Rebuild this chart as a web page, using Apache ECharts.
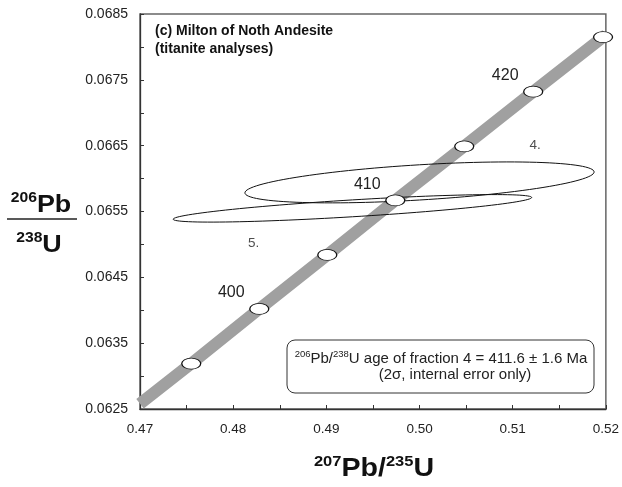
<!DOCTYPE html>
<html>
<head>
<meta charset="utf-8">
<script src="https://cdn.jsdelivr.net/npm/echarts@6/dist/echarts.min.js"></script>
<style>
  html, body { margin: 0; padding: 0; background: #fff; }
  #chart { width: 622px; height: 487px; }
</style>
</head>
<body>
<div id="chart"></div>
<script>
// concordia band, 207Pb/235U vs 206Pb/238U
var bandX = [0.4700, 0.4755, 0.4828, 0.4901, 0.4974, 0.5048, 0.5122, 0.5197, 0.5200]
var bandY = [0.06258, 0.06319, 0.06402, 0.06484, 0.06567, 0.06649, 0.06732, 0.06815, 0.06818]
// age marks on the concordia (Ma)
var markerAges = [395, 400, 405, 410, 415, 420, 425]
var markerX = [0.4755, 0.4828, 0.4901, 0.4974, 0.5048, 0.5122, 0.5197]
var markerY = [0.06319, 0.06402, 0.06484, 0.06567, 0.06649, 0.06732, 0.06815]
// titanite fractions: centre, 2s errors, error correlation
var fractions = ['4.', '5.']
var fracX = [0.5000, 0.4928]
var fracErrX = [0.01874, 0.01924]
var fracY = [0.065942, 0.065548]
var fracErrY = [0.000311, 0.000209]
var fracRho = [0.51, 0.79]
var fracLabelX = [0.5124, 0.4822]
var fracLabelY = [0.06651, 0.06502]

var FONT = '"Liberation Sans", Arial, Helvetica, sans-serif'

var bandData = bandX.map(function (x, i) { return [x, bandY[i]] })
var markerData = markerX.map(function (x, i) { return [x, markerY[i], markerAges[i]] })
var ellipseData = fractions.map(function (f, i) {
  return [fracX[i], fracErrX[i], fracY[i], fracErrY[i], fracRho[i]]
})
var fracLabelData = fractions.map(function (f, i) {
  return { name: f, value: [fracLabelX[i], fracLabelY[i]] }
})

function ellipseItem (params, api) {
  var cx = api.value(0), sx = api.value(1), cy = api.value(2), sy = api.value(3), rho = api.value(4)
  var k = Math.sqrt(1 - rho * rho)
  var pts = []
  for (var i = 0; i < 120; i++) {
    var t = i / 120 * Math.PI * 2
    pts.push(api.coord([cx + sx * Math.cos(t), cy + sy * (rho * Math.cos(t) + k * Math.sin(t))]))
  }
  return {
    type: 'polygon',
    shape: { points: pts },
    style: { fill: 'none', stroke: '#111', lineWidth: 1 }
  }
}

var chart = echarts.init(document.getElementById('chart'))
chart.setOption({
  animation: false,
  grid: {
    left: 140, top: 14, width: 466, height: 395,
    show: true, borderColor: '#666', borderWidth: 1.5
  },
  xAxis: {
    type: 'value',
    min: 0.47, max: 0.52, interval: 0.005,
    axisLine: { show: true, lineStyle: { color: '#333', width: 1.3 } },
    axisTick: { show: true, inside: true, length: 4, lineStyle: { color: '#333' } },
    splitLine: { show: false },
    axisLabel: {
      margin: 13, fontSize: 13.5, color: '#222', fontFamily: FONT,
      formatter: function (v) {
        return Math.round(v * 1000) % 10 === 0 ? v.toFixed(2) : ''
      }
    }
  },
  yAxis: {
    type: 'value',
    min: 0.0625, max: 0.0685, interval: 0.0005,
    axisLine: { show: true, lineStyle: { color: '#333', width: 1.3 } },
    axisTick: { show: true, inside: true, length: 4, lineStyle: { color: '#333' } },
    splitLine: { show: false },
    axisLabel: {
      margin: 12, fontSize: 14, color: '#222', fontFamily: FONT,
      formatter: function (v) {
        return Math.round(v * 10000) % 10 === 5 ? v.toFixed(4) : ''
      }
    }
  },
  series: [
    {
      name: 'concordia',
      type: 'line',
      data: bandData,
      symbol: 'none',
      lineStyle: { color: '#a0a0a0', width: 12, cap: 'butt' },
      clip: true,
      z: 1
    },
    {
      name: 'fractions',
      type: 'custom',
      data: ellipseData,
      encode: { x: 0, y: 2 },
      renderItem: ellipseItem,
      clip: true,
      z: 2
    },
    {
      name: 'ages',
      type: 'scatter',
      data: markerData,
      symbol: 'circle',
      symbolSize: [19, 11],
      itemStyle: { color: '#fff', borderColor: '#111', borderWidth: 1, opacity: 1 },
      label: {
        show: true,
        position: 'inside',
        offset: [-28, -16],
        fontSize: 16,
        color: '#222',
        fontFamily: FONT,
        formatter: function (p) { return p.value[2] % 10 === 0 ? String(p.value[2]) : '' }
      },
      z: 3
    },
    {
      name: 'fraction numbers',
      type: 'scatter',
      data: fracLabelData,
      symbolSize: 0,
      label: {
        show: true, position: 'inside', formatter: '{b}',
        fontSize: 13.5, color: '#222', fontFamily: FONT
      },
      z: 3
    }
  ],
  graphic: [
    {
      type: 'text', x: 155, y: 22,
      style: {
        text: '(c) Milton of Noth Andesite\n(titanite analyses)',
        font: 'bold 14px ' + FONT, lineHeight: 18, fill: '#111'
      }
    },
    {
      type: 'text', x: 41, y: 204, scaleX: 1.12,
      style: {
        text: '{s|206}{b|Pb}', align: 'center', verticalAlign: 'middle',
        rich: {
          s: { fontSize: 14, fontWeight: 'bold', fontFamily: FONT, fill: '#111', verticalAlign: 'top', lineHeight: 14 },
          b: { fontSize: 24, fontWeight: 'bold', fontFamily: FONT, fill: '#111', verticalAlign: 'bottom', lineHeight: 26 }
        }
      }
    },
    {
      type: 'line', shape: { x1: 7, y1: 219, x2: 77, y2: 219 },
      style: { stroke: '#222', lineWidth: 1.5 }
    },
    {
      type: 'text', x: 39, y: 244, scaleX: 1.12,
      style: {
        text: '{s|238}{b|U}', align: 'center', verticalAlign: 'middle',
        rich: {
          s: { fontSize: 14, fontWeight: 'bold', fontFamily: FONT, fill: '#111', verticalAlign: 'top', lineHeight: 14 },
          b: { fontSize: 24, fontWeight: 'bold', fontFamily: FONT, fill: '#111', verticalAlign: 'bottom', lineHeight: 26 }
        }
      }
    },
    {
      type: 'text', x: 374, y: 468, scaleX: 1.1,
      style: {
        text: '{s|207}{b|Pb/}{s|235}{b|U}', align: 'center', verticalAlign: 'middle',
        rich: {
          s: { fontSize: 15, fontWeight: 'bold', fontFamily: FONT, fill: '#111', verticalAlign: 'top', lineHeight: 15 },
          b: { fontSize: 26, fontWeight: 'bold', fontFamily: FONT, fill: '#111', verticalAlign: 'bottom', lineHeight: 28 }
        }
      }
    },
    {
      type: 'rect', shape: { x: 287, y: 340, width: 307, height: 53, r: 8 },
      style: { fill: '#fff', stroke: '#333', lineWidth: 1 }
    },
    {
      type: 'text', x: 441, y: 358,
      style: {
        text: '{s|206}{n|Pb/}{s|238}{n|U age of fraction 4 = 411.6 \u00b1 1.6 Ma}',
        align: 'center', verticalAlign: 'middle',
        rich: {
          s: { fontSize: 9.5, fontFamily: FONT, fill: '#222', verticalAlign: 'top', lineHeight: 10 },
          n: { fontSize: 15, fontFamily: FONT, fill: '#222', verticalAlign: 'bottom', lineHeight: 17 }
        }
      }
    },
    {
      type: 'text', x: 455, y: 375,
      style: {
        text: '(2\u03c3, internal error only)', align: 'center', verticalAlign: 'middle',
        font: '15px ' + FONT, fill: '#222'
      }
    }
  ]
})
</script>
</body>
</html>
